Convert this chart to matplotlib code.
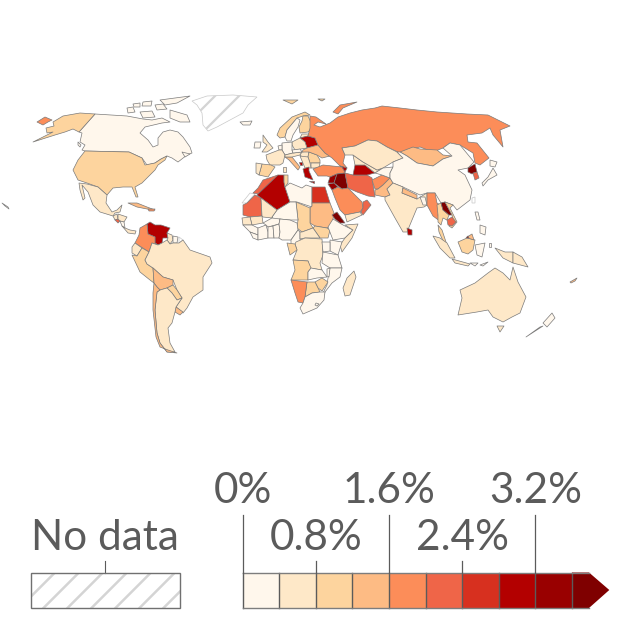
import numpy as np
import matplotlib
matplotlib.use("Agg")
import matplotlib.pyplot as plt
from matplotlib.colors import ListedColormap, BoundaryNorm
from matplotlib.patches import Polygon

plt.rcParams["font.family"] = ["Lato", "DejaVu Sans"]

# colour scale
bin_edges = [0, 0.4, 0.8, 1.2, 1.6, 2.0, 2.4, 2.8, 3.2, 3.6, 4.0]
bin_colors = ["#fff7ec", "#fee8c8", "#fdd49e", "#fdbb84", "#fc8d59",
              "#ef6548", "#d7301f", "#b30000", "#990000", "#7f0000"]
tick_values = [0, 0.8, 1.6, 2.4, 3.2]
tick_labels = ["0%", "0.8%", "1.6%", "2.4%", "3.2%"]

# rates in percent
rates_americas = {
    "Canada": 0.2, "Baffin": 0.2, "Victoria": 0.2, "Ellesmere": 0.2, "Banks": 0.2,
    "Devon": 0.2, "Somerset": 0.2, "Melville": 0.2, "Newfoundland": 0.2, "Vancouver": 0.2,
    "USA": 1.0, "Alaska": 1.0, "Hawaii": 0.2, "Mexico": 0.6, "Guatemala": 0.6,
    "Salvador": 2.2, "Honduras": 0.6, "Nicaragua": 0.2, "Panama": 0.6, "Cuba": 1.4,
    "Haiti": 1.8, "Venezuela": 3.0, "Colombia": 1.8, "Guyana": 0.6, "Suriname": 0.2,
    "Ecuador": 0.6, "Peru": 1.0, "Brazil": 0.6, "Bolivia": 1.4, "Paraguay": 1.0,
    "Uruguay": 1.4, "Argentina": 0.6, "Chile": 1.4,
}
rates_africa = {
    "Morocco": 2.2, "Mauritania": 2.2, "Algeria": 3.0, "Tunisia": 1.0, "Libya": 0.2,
    "Egypt": 2.6, "Sudan": 1.4, "South Sudan": 1.0, "Chad": 1.0, "Niger": 0.2,
    "Mali": 0.6, "Mali south": 0.6, "Senegal": 0.6, "Guinea": 0.2, "Burkina": 0.2,
    "Ivory Coast": 0.2, "Ghana": 0.2, "Nigeria": 0.2, "Liberia": 0.2, "Benin": 0.2,
    "Cameroon": 0.2, "CAR": 0.6, "Ethiopia": 0.2, "Somalia": 0.6, "Eritrea": 3.8,
    "Kenya": 0.2, "DRC": 0.6, "Gabon": 1.0, "Uganda": 0.2, "Tanzania": 0.2,
    "Angola": 1.0, "Zambia": 0.2, "Mozambique": 0.2, "Malawi": 0.2, "Zimbabwe": 1.0,
    "Botswana": 1.0, "Namibia": 1.8, "South Africa": 0.2, "Lesotho": 0.2, "Madagascar": 0.6,
}
rates_europe = {
    "UK": 0.6, "Ireland": 0.2, "Iceland": 0.2, "Svalbard": 1.0, "Franz Josef": 1.0,
    "Norway": 1.0, "Sweden": 0.2, "Finland": 1.0, "Baltics": 0.6, "Belarus": 3.0,
    "Poland": 0.6, "Germany": 0.2, "Benelux": 0.2, "France": 0.6, "Spain": 1.0,
    "Portugal": 0.6, "Italy": 1.4, "Sardinia": 0.6, "Austria": 0.6, "Czechia": 0.2,
    "Hungary": 0.6, "Romania": 1.0, "Ukraine": 1.4, "Bulgaria": 0.6, "Greece": 3.0,
    "Balkans": 0.6, "Montenegro": 3.0, "Crete": 3.0, "Novaya Zemlya": 1.8, "Russia": 1.8,
    "Chukotka": 1.8,
}
rates_asia = {
    "Turkey": 1.8, "Syria": 3.4, "Iraq": 3.8, "Jordan": 3.4, "Iran": 2.2, "Saudi": 1.8,
    "Yemen": 0.6, "Oman": 2.2, "Afghanistan": 1.8, "Pakistan": 1.4, "Turkmenistan": 3.0,
    "Uzbekistan": 0.6, "Kazakhstan": 0.6, "Kyrgyzstan": 0.2, "Caucasus": 3.0,
    "Mongolia": 1.4, "China": 0.2, "India": 0.6, "Nepal": 1.4, "Bangladesh": 0.2,
    "Sri Lanka": 3.0, "Myanmar": 1.8, "Thailand": 1.0, "Peninsula": 1.0, "Laos": 3.8,
    "Vietnam": 1.0, "Cambodia": 2.2, "North Korea": 3.8, "South Korea": 2.2,
    "Hokkaido": 0.2, "Honshu": 0.2, "Luzon": 0.2, "Mindanao": 0.2, "Sumatra": 0.6,
    "Java": 0.6, "Kalimantan": 1.0, "Sabah": 1.4, "Brunei": 3.4, "Sulawesi": 0.2,
    "Papua": 0.6, "PNG": 0.6, "Timor": 0.2, "Flores": 0.2, "Halmahera": 0.2,
}
rates_oceania = {
    "Australia": 0.6, "Tasmania": 0.6, "NZ north": 0.2, "NZ south": 0.2,
    "New Caledonia": 1.4,
}

outlines_americas = {
    "Canada": [(95,114),(127,116),(143,119),(152,120),(162,118),(170,122),(162,123),(145,127),(140,133),(148,140),(153,147),(158,145),(158,138),(163,132),(170,130),(178,132),(183,137),(190,147),(192,153),(187,155),(178,162),(172,158),(167,156),(161,159),(155,163),(147,165),(142,158),(129,152),(85,151),(82,150),(85,145),(80,142),(82,133),(79,132)],
    "Baffin": [(170,110),(187,115),(190,122),(180,122),(170,118)],
    "Ellesmere": [(160,100),(190,96),(177,103),(165,105)],
    "Victoria": [(140,112),(152,111),(155,117),(143,118)],
    "Banks": [(127,108),(133,107),(135,112),(128,113)],
    "Devon": [(143,102),(152,101),(151,106),(142,106)],
    "Somerset": [(155,105),(163,104),(167,109),(157,110)],
    "Melville": [(133,104),(140,103),(140,107),(134,107)],
    "Newfoundland": [(182,152),(190,154),(185,157)],
    "Vancouver": [(78,142),(81,145),(80,147),(78,145)],
    "USA": [(85,151),(129,152),(142,158),(145,165),(155,163),(161,159),(167,156),(165,160),(158,165),(155,170),(148,177),(142,183),(135,187),(138,197),(136,197),(132,187),(123,187),(113,188),(107,195),(98,187),(87,183),(78,180),(73,170),(78,160)],
    "Alaska": [(95,114),(79,132),(73,129),(65,132),(55,135),(33,142),(53,132),(47,133),(46,128),(54,126),(53,122),(63,116),(80,113)],
    "Hawaii": [(2,203),(8,207),(9,209),(5,206)],
    "Mexico": [(79,183),(87,184),(98,187),(107,195),(106,203),(112,212),(117,210),(122,205),(120,212),(115,213),(113,216),(100,212),(93,205),(88,192),(82,185),(85,198),(83,200),(80,190)],
    "Guatemala": [(113,216),(117,214),(118,219),(115,220)],
    "Salvador": [(115,220),(118,219),(120,221),(118,223)],
    "Honduras": [(118,214),(127,217),(124,222),(120,221),(118,219)],
    "Nicaragua": [(120,221),(124,222),(125,228),(122,226)],
    "Panama": [(122,226),(125,228),(130,230),(136,231),(135,234),(128,233)],
    "Cuba": [(128,203),(137,203),(147,207),(155,210),(147,209),(137,207)],
    "Haiti": [(148,209),(155,209),(154,211),(149,211)],
    "Venezuela": [(147,224),(150,222),(155,225),(161,225),(170,228),(167,233),(168,238),(163,238),(162,243),(158,245),(155,243),(155,237),(148,234)],
    "Colombia": [(147,224),(148,234),(155,237),(155,243),(158,245),(152,243),(149,252),(135,243),(139,235),(140,228)],
    "Guyana": [(167,233),(172,235),(173,240),(170,244),(167,240),(168,238)],
    "Suriname": [(173,236),(178,237),(177,243),(173,243),(173,240)],
    "Ecuador": [(135,243),(142,248),(137,256),(132,253),(132,247)],
    "Peru": [(132,255),(137,256),(142,248),(149,252),(145,260),(147,264),(153,268),(154,283),(150,280),(140,272)],
    "Brazil": [(149,252),(152,243),(158,245),(162,243),(167,240),(170,244),(173,243),(177,243),(179,243),(183,240),(190,250),(210,257),(212,263),(203,277),(203,290),(193,297),(187,308),(183,313),(176,307),(182,298),(177,290),(173,280),(163,277),(153,268),(147,264),(145,260)],
    "Bolivia": [(153,268),(163,277),(173,280),(173,285),(167,288),(160,290),(157,287),(154,283)],
    "Paraguay": [(167,288),(173,285),(177,290),(182,298),(177,300),(172,293)],
    "Uruguay": [(176,307),(183,312),(180,315),(175,312)],
    "Argentina": [(157,292),(160,290),(167,288),(172,293),(177,300),(182,298),(176,307),(175,312),(172,323),(168,328),(170,343),(175,352),(167,352),(160,343),(157,333),(155,310)],
    "Chile": [(154,283),(157,287),(160,290),(157,292),(155,310),(157,333),(160,343),(167,352),(177,353),(168,350),(160,347),(156,337),(153,310),(153,293)],
}
outlines_africa = {
    "Morocco": [(253,193),(258,188),(263,180),(278,175),(277,177),(258,194)],
    "Mauritania": [(247,203),(255,195),(261,198),(262,216),(250,217),(243,215),(243,205)],
    "Algeria": [(278,175),(284,175),(284,182),(285,187),(290,202),(277,210),(257,195)],
    "Tunisia": [(284,175),(288,175),(288,183),(285,187),(284,182)],
    "Libya": [(285,187),(290,183),(302,188),(306,185),(312,187),(312,207),(297,202),(290,202)],
    "Egypt": [(312,187),(325,187),(330,203),(312,203)],
    "Sudan": [(312,206),(312,203),(330,203),(334,213),(332,225),(327,228),(315,226),(310,223),(310,208)],
    "South Sudan": [(313,228),(315,226),(327,228),(330,230),(328,238),(320,238)],
    "Chad": [(296,202),(310,208),(310,223),(313,228),(302,232),(297,228),(298,220)],
    "Niger": [(277,210),(290,202),(296,202),(298,220),(290,220),(280,219),(274,220),(272,217)],
    "Mali": [(261,198),(277,210),(272,217),(272,218),(263,217),(262,216)],
    "Mali south": [(250,217),(262,216),(263,223),(252,225)],
    "Senegal": [(242,218),(250,217),(252,225),(243,225)],
    "Guinea": [(243,225),(252,225),(258,228),(258,235),(250,232)],
    "Liberia": [(250,232),(258,235),(258,240),(253,238)],
    "Ivory Coast": [(258,228),(266,225),(268,232),(268,238),(258,240)],
    "Burkina": [(263,223),(272,218),(280,219),(279,224),(268,227),(266,225)],
    "Ghana": [(268,227),(273,226),(274,238),(268,238)],
    "Benin": [(273,226),(279,224),(280,232),(279,238),(274,238)],
    "Nigeria": [(279,224),(280,219),(290,220),(297,223),(298,230),(291,240),(282,240),(279,238),(280,232)],
    "Cameroon": [(291,240),(298,230),(300,232),(300,239),(303,246),(291,247)],
    "CAR": [(300,232),(302,232),(313,228),(320,238),(305,238),(300,239)],
    "Ethiopia": [(328,227),(333,219),(343,225),(353,230),(345,238),(333,240)],
    "Somalia": [(345,225),(358,224),(352,238),(342,252),(340,245),(345,238),(353,230)],
    "Eritrea": [(332,215),(337,212),(345,223),(340,223),(335,219)],
    "Kenya": [(330,240),(342,242),(338,255),(330,251),(330,243)],
    "DRC": [(296,242),(305,238),(322,239),(323,255),(320,263),(322,270),(310,268),(308,261),(293,260),(297,250),(295,244)],
    "Gabon": [(287,243),(295,244),(297,250),(290,255)],
    "Uganda": [(322,242),(330,242),(330,251),(323,252)],
    "Tanzania": [(323,252),(338,255),(342,268),(330,268),(322,263)],
    "Angola": [(293,260),(308,261),(311,268),(308,272),(308,280),(291,280),(295,270)],
    "Zambia": [(311,268),(322,270),(327,277),(317,278),(308,280),(308,272)],
    "Mozambique": [(330,268),(342,268),(340,277),(332,283),(325,292),(323,298),(322,295),(327,285),(328,278)],
    "Malawi": [(327,269),(330,268),(329,277),(327,276)],
    "Zimbabwe": [(315,282),(322,278),(328,282),(322,291),(318,288)],
    "Botswana": [(307,282),(315,282),(320,292),(312,293),(305,297)],
    "Namibia": [(291,280),(307,282),(305,297),(303,303),(298,302),(295,293)],
    "South Africa": [(303,303),(305,297),(312,293),(320,292),(325,292),(324,300),(317,308),(303,314),(300,308)],
    "Lesotho": [(316,303),(319,304),(317,306),(315,305)],
    "Madagascar": [(354,271),(356,277),(350,295),(345,296),(343,288),(347,278)],
}
outlines_europe = {
    "UK": [(263,135),(268,142),(273,148),(267,152),(262,152),(267,145),(263,142)],
    "Ireland": [(255,142),(261,142),(260,148),(254,148)],
    "Iceland": [(240,122),(252,121),(250,125),(243,125)],
    "Svalbard": [(283,100),(298,100),(292,104)],
    "Franz Josef": [(318,99),(325,99),(322,101)],
    "Norway": [(277,135),(280,128),(292,117),(305,112),(310,115),(303,116),(297,118),(287,130),(285,137),(280,138)],
    "Sweden": [(285,137),(287,130),(297,118),(300,120),(298,127),(293,135),(291,141),(287,141)],
    "Finland": [(303,116),(308,116),(313,127),(308,132),(300,133),(299,127),(302,121)],
    "Baltics": [(302,134),(311,134),(312,136),(308,136),(300,138)],
    "Belarus": [(300,138),(308,136),(315,138),(318,145),(307,148),(305,142)],
    "Poland": [(292,142),(300,138),(305,142),(307,148),(295,150),(292,145)],
    "Germany": [(282,143),(292,142),(292,150),(293,153),(285,155),(282,150)],
    "Benelux": [(278,146),(282,145),(282,150),(279,150)],
    "France": [(266,155),(279,150),(282,150),(285,155),(283,163),(280,165),(270,165),(267,160)],
    "Spain": [(262,164),(271,165),(275,167),(268,177),(259,175)],
    "Portugal": [(256,163),(262,164),(259,175),(256,173)],
    "Italy": [(285,157),(292,157),(300,167),(298,170),(289,160)],
    "Sardinia": [(283,167),(286,167),(286,172),(283,172)],
    "Austria": [(285,155),(293,153),(302,152),(300,155),(292,157),(285,157)],
    "Czechia": [(292,150),(300,149),(302,152),(293,153)],
    "Hungary": [(300,155),(302,152),(309,151),(308,157),(303,158)],
    "Romania": [(309,152),(317,155),(320,160),(320,163),(310,163),(308,157)],
    "Ukraine": [(307,148),(318,145),(325,153),(330,156),(322,158),(317,155),(309,152),(302,152),(303,150)],
    "Bulgaria": [(311,163),(320,163),(319,168),(311,168)],
    "Balkans": [(300,156),(308,157),(310,163),(311,168),(305,168)],
    "Montenegro": [(299,162),(302,162),(302,165),(300,165)],
    "Greece": [(303,169),(309,167),(309,171),(313,180),(305,177)],
    "Crete": [(309,181),(314,181),(314,183)],
    "Novaya Zemlya": [(333,112),(340,105),(357,102),(343,108),(338,114)],
    "Russia": [(310,116),(316,117),(326,124),(318,122),(314,125),(320,127),(330,123),(338,117),(350,113),(362,110),(375,108),(382,106),(400,108),(417,110),(437,112),(467,114),(488,115),(510,126),(500,130),(503,147),(493,135),(490,128),(482,133),(467,135),(468,142),(477,143),(489,158),(480,165),(475,163),(473,153),(460,145),(450,143),(443,148),(433,152),(420,147),(407,150),(400,153),(387,147),(377,141),(368,140),(355,146),(342,148),(345,155),(343,163),(347,168),(340,166),(332,158),(325,153),(318,145),(315,138),(308,136),(310,128)],
    "Chukotka": [(37,122),(45,117),(52,120),(48,122),(43,125)],
}
outlines_asia = {
    "Turkey": [(313,169),(323,165),(342,167),(345,172),(345,173),(337,174),(330,177),(327,176),(318,176)],
    "Caucasus": [(340,166),(347,168),(345,172),(342,167)],
    "Syria": [(328,183),(330,177),(337,174),(334,183)],
    "Iraq": [(337,174),(345,173),(348,188),(342,189),(334,183)],
    "Jordan": [(328,184),(334,183),(338,187),(332,190)],
    "Iran": [(345,173),(353,175),(367,175),(372,178),(375,197),(368,196),(357,192),(348,188)],
    "Saudi": [(332,190),(338,187),(342,189),(348,188),(357,197),(362,202),(363,208),(360,212),(345,215),(340,210),(335,198)],
    "Yemen": [(345,215),(360,212),(362,215),(347,222)],
    "Oman": [(363,208),(363,202),(367,200),(371,205),(363,215),(361,212)],
    "Afghanistan": [(372,180),(382,175),(390,178),(383,185),(378,189),(375,189)],
    "Pakistan": [(375,190),(378,189),(383,185),(390,178),(393,183),(387,189),(390,195),(385,197),(375,195)],
    "Turkmenistan": [(355,165),(365,165),(375,173),(367,175),(353,175)],
    "Uzbekistan": [(353,155),(363,162),(377,170),(383,168),(375,173),(365,165),(355,165)],
    "Kazakhstan": [(342,148),(355,146),(368,140),(377,141),(387,147),(397,152),(403,158),(393,162),(383,168),(377,170),(363,162),(353,155),(345,155)],
    "Kyrgyzstan": [(383,168),(393,167),(390,173),(390,178),(382,175),(375,173)],
    "Mongolia": [(400,152),(413,147),(420,149),(437,150),(443,155),(452,156),(443,159),(433,166),(417,163),(407,156)],
    "China": [(397,152),(400,152),(407,156),(417,163),(433,166),(443,159),(452,156),(443,148),(450,143),(460,145),(474,162),(468,168),(458,170),(465,175),(472,190),(470,200),(457,210),(453,205),(445,202),(441,203),(435,193),(427,193),(420,195),(403,187),(393,183),(390,178),(390,173),(393,167),(393,162),(403,158)],
    "India": [(393,183),(403,187),(402,193),(417,199),(427,193),(427,205),(424,207),(417,208),(407,232),(403,232),(395,218),(385,200),(385,197),(390,195),(387,189)],
    "Nepal": [(403,188),(417,195),(417,199),(402,193)],
    "Bangladesh": [(420,197),(425,197),(427,205),(423,205)],
    "Sri Lanka": [(407,228),(412,230),(412,235),(408,235)],
    "Myanmar": [(427,193),(435,193),(437,203),(442,206),(438,215),(441,222),(433,216),(427,205)],
    "Thailand": [(437,205),(441,203),(443,210),(449,215),(447,220),(443,218),(441,225),(438,222),(438,215)],
    "Peninsula": [(438,225),(442,230),(447,245),(444,243),(439,232)],
    "Laos": [(441,203),(445,202),(452,215),(449,215),(443,210)],
    "Vietnam": [(445,202),(453,205),(450,208),(457,222),(452,228),(449,226),(453,220),(452,215)],
    "Cambodia": [(447,220),(452,217),(456,222),(452,226),(448,225)],
    "North Korea": [(468,168),(475,164),(477,172),(472,174),(468,172)],
    "South Korea": [(473,173),(477,172),(479,178),(475,180)],
    "Hokkaido": [(490,160),(497,162),(495,167),(490,166)],
    "Honshu": [(493,168),(497,175),(488,180),(483,186),(482,183),(488,177),(492,170)],
    "Luzon": [(475,212),(478,212),(480,220),(477,220)],
    "Mindanao": [(480,225),(486,227),(485,235),(480,233)],
    "Sumatra": [(433,236),(440,238),(447,243),(455,258),(450,258),(440,248)],
    "Java": [(452,259),(470,264),(468,266),(455,263)],
    "Kalimantan": [(458,242),(467,238),(475,240),(473,250),(468,254),(462,252)],
    "Sabah": [(467,237),(472,234),(474,240),(468,238)],
    "Brunei": [(466,238),(468,236),(469,238)],
    "Sulawesi": [(475,245),(485,243),(482,257),(477,255)],
    "Papua": [(495,248),(505,252),(513,252),(513,263),(503,258)],
    "PNG": [(513,252),(522,257),(528,267),(513,263)],
    "Timor": [(470,263),(478,263),(475,266)],
    "Flores": [(480,265),(488,262),(483,266)],
    "Halmahera": [(489,243),(491,243),(491,247),(489,247)],
}
outlines_oceania = {
    "Australia": [(488,273),(495,268),(503,273),(510,280),(513,267),(518,282),(526,297),(520,313),(512,317),(503,322),(493,317),(488,310),(477,312),(458,315),(462,298),(460,290),(475,283)],
    "Tasmania": [(497,326),(504,326),(500,332)],
    "NZ north": [(555,318),(547,327),(543,323),(552,313)],
    "NZ south": [(543,326),(526,337),(540,327)],
    "New Caledonia": [(570,282),(577,278),(575,281),(571,283)],
}
# areas without data
nodata_outlines = {
    "Greenland": [(192,101),(207,96),(233,95),(257,97),(248,105),(243,113),(230,120),(217,127),(208,131),(203,125),(202,113),(197,105)],
    "Western Sahara": [(242,203),(250,193),(255,194),(252,197),(247,203)],
    "French Guiana": [(179,237),(183,240),(179,243)],
    "Taiwan": [(472,198),(475,197),(475,203),(472,203)],
}

cmap = ListedColormap(bin_colors)
norm = BoundaryNorm(bin_edges, cmap.N)

HATCH_COLOR = "#d4d4d4"
TEXT_COLOR = "#5b5b5b"
LINE_COLOR = "#5b5b5b"
FONT_SIZE = 30.4


def draw_hatch(ax, patch, x0, x1, y0, y1, spacing, lw):
    # diagonal stripes clipped to patch, going up to the right
    for start in np.arange(x0 - (y1 - y0), x1 + spacing, spacing):
        line, = ax.plot([start, start + (y1 - y0)], [y1, y0], color=HATCH_COLOR, lw=lw, zorder=2)
        line.set_clip_path(patch)


fig = plt.figure(figsize=(6.4, 6.4), dpi=100)
ax = fig.add_axes([0, 0, 1, 1])
ax.set_xlim(0, 640)
ax.set_ylim(640, 0)
ax.axis("off")

# map
region_pairs = [(outlines_americas, rates_americas), (outlines_africa, rates_africa),
                (outlines_europe, rates_europe), (outlines_asia, rates_asia),
                (outlines_oceania, rates_oceania)]
for outlines, rates in region_pairs:
    for name, pts in outlines.items():
        ax.add_patch(Polygon(pts, closed=True, facecolor=cmap(norm(rates[name])),
                             edgecolor="#7a7a7a", lw=0.5, joinstyle="round", zorder=3))

for name, pts in nodata_outlines.items():
    poly = Polygon(pts, closed=True, facecolor="white", edgecolor="#c8c8c8", lw=0.5, zorder=1)
    ax.add_patch(poly)
    xs, ys = zip(*pts)
    draw_hatch(ax, poly, min(xs), max(xs), min(ys), max(ys), 24, 1.6)

# no data legend
box = Polygon([(31, 572.5), (179.5, 572.5), (179.5, 608), (31, 608)], closed=True,
              facecolor="white", edgecolor="none", zorder=1)
ax.add_patch(box)
draw_hatch(ax, box, 31, 179.5, 572.5, 608, 24, 1.8)
ax.add_patch(Polygon(box.get_xy(), closed=True, facecolor="none", edgecolor="#707070", lw=1.0, zorder=4))
ax.plot([105, 105], [561, 573], color=LINE_COLOR, lw=0.8)
ax.text(105, 549.5, "No data", ha="center", va="baseline", fontsize=FONT_SIZE, color=TEXT_COLOR)

# colour legend, on its own axes so the bins come from the value scale
LEG_X0, LEG_Y0, LEG_PX_PER_UNIT, LEG_H = 242.5, 572.5, 91.5, 35.5
cax = fig.add_axes([LEG_X0 / 640, (640 - LEG_Y0 - LEG_H) / 640,
                    LEG_PX_PER_UNIT * 4 / 640, LEG_H / 640])
cax.set_xlim(0, 4)
cax.set_ylim(0, 1)
cax.axis("off")
for i, color in enumerate(bin_colors[:-1]):
    cax.fill_between([bin_edges[i], bin_edges[i + 1]], 0, 1, color=color, lw=0)
    cax.plot([bin_edges[i]] * 2, [0, 1], color=LINE_COLOR, lw=1.0, clip_on=False)
# last bin is an arrow running past the top of the scale
last_x = LEG_X0 + bin_edges[-2] * LEG_PX_PER_UNIT
arrow_px = [(last_x, 572.5), (589, 572.5), (609.3, 590), (589, 608), (last_x, 608)]
fig_ax = fig.add_axes([0, 0, 1, 1])
fig_ax.set_xlim(0, 640)
fig_ax.set_ylim(640, 0)
fig_ax.axis("off")
fig_ax.add_patch(Polygon(arrow_px, closed=True, facecolor=bin_colors[-1], edgecolor="none"))
fig_ax.plot([last_x, last_x], [572.5, 608], color=LINE_COLOR, lw=1.0)
fig_ax.plot([LEG_X0, 589], [572.5, 572.5], color="#7d7d7d", lw=1.0)
fig_ax.plot([LEG_X0, 589], [608, 608], color="#7d7d7d", lw=1.0)

for i, (value, label) in enumerate(zip(tick_values, tick_labels)):
    xpx = LEG_X0 + value * LEG_PX_PER_UNIT
    top = 515 if i % 2 == 0 else 561
    base = 503 if i % 2 == 0 else 549.5
    fig_ax.plot([xpx, xpx], [top, 573], color=LINE_COLOR, lw=0.9)
    fig_ax.text(xpx, base, label, ha="center", va="baseline", fontsize=FONT_SIZE, color=TEXT_COLOR)

fig.savefig("out.png", dpi=100)
